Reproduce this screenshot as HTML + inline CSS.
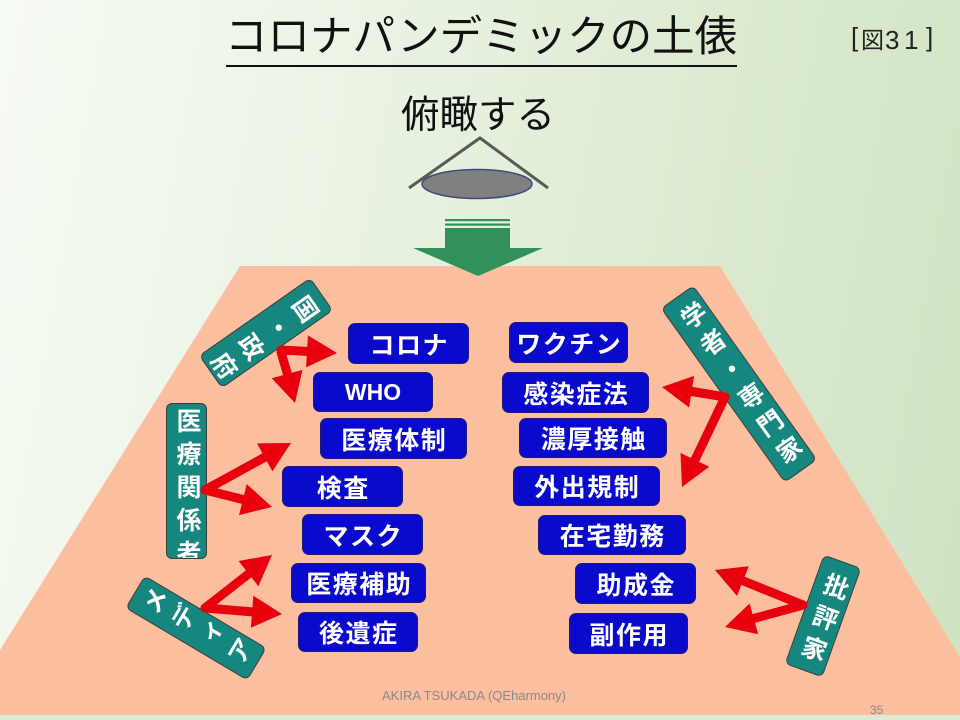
<!DOCTYPE html>
<html>
<head>
<meta charset="utf-8">
<style>
  html,body{margin:0;padding:0;}
  body{width:960px;height:720px;overflow:hidden;position:relative;
    background:linear-gradient(100deg,#f7fbf4 0%,#eaf3e4 35%,#dbeacf 70%,#cfe3c2 100%);
    font-family:"Liberation Sans","Noto Sans CJK JP",sans-serif;}
  .abs{position:absolute;}
  .bx{position:absolute;box-sizing:border-box;background:#0a0acc;border:1.5px solid #1c1c78;border-radius:7px;
    color:#fff;font-weight:bold;font-size:25px;letter-spacing:1.5px;padding-left:1.5px;
    display:flex;align-items:center;justify-content:center;white-space:nowrap;
    font-family:"Liberation Sans","Noto Sans CJK JP",sans-serif;}
  .lb{position:absolute;box-sizing:border-box;background:#16877f;border:1.5px solid #3d3d3d;border-radius:6px;
    color:#fff;font-weight:bold;font-size:25px;writing-mode:vertical-rl;text-orientation:upright;
    letter-spacing:8px;text-align:center;white-space:nowrap;overflow:hidden;
    font-family:"Liberation Sans","Noto Sans CJK JP",sans-serif;}
</style>
</head>
<body>
<svg class="abs" style="left:0;top:0" width="960" height="720" viewBox="0 0 960 720">
  <rect x="0" y="715" width="960" height="5" fill="#dcecd2"/>
  <polygon points="240,266 720,266 960,657 960,715 0,715 0,650" fill="#fbbe9f"/>
  <!-- eye -->
  <polyline points="409,188 480,138 548,188" fill="none" stroke="#575b57" stroke-width="3"/>
  <ellipse cx="477" cy="184" rx="55" ry="14.5" fill="#808080" stroke="#3c4e78" stroke-width="1.5"/>
  <!-- green arrow -->
  <rect x="445" y="219" width="65" height="2.2" fill="#319158"/>
  <rect x="445" y="223.5" width="65" height="2.2" fill="#319158"/>
  <rect x="445" y="228" width="65" height="21" fill="#319158"/>
  <polygon points="413,248 543,248 478,276" fill="#319158"/>
  <!-- title underline -->
  <rect x="226" y="65" width="511" height="2" fill="#111"/>
</svg>

<div class="abs" style="left:225px;top:17px;font-size:42.5px;line-height:1;color:#111;font-family:'Liberation Sans','Noto Sans CJK JP',sans-serif;white-space:nowrap;">コロナパンデミックの土俵</div>

<div class="abs" style="left:851px;top:24px;font-size:26px;line-height:1;color:#222;font-family:'Liberation Sans',sans-serif;">[</div>
<div class="abs" style="left:861px;top:29px;font-size:23px;line-height:1;color:#222;font-family:'Liberation Sans','Noto Sans CJK JP',sans-serif;">図</div>
<div class="abs" style="left:885px;top:27px;font-size:26px;line-height:1;color:#222;font-family:'Liberation Sans',sans-serif;">3</div>
<div class="abs" style="left:904px;top:27px;font-size:26px;line-height:1;color:#222;font-family:'Liberation Sans',sans-serif;">1</div>
<div class="abs" style="left:926px;top:24px;font-size:26px;line-height:1;color:#222;font-family:'Liberation Sans',sans-serif;">]</div>

<div class="abs" style="left:401px;top:97px;font-size:38.5px;line-height:1;color:#111;font-family:'Liberation Sans','Noto Sans CJK JP',sans-serif;white-space:nowrap;">俯瞰する</div>

<!-- blue boxes -->
<div class="bx" style="left:348px;top:323px;width:121px;height:41px;">コロナ</div>
<div class="bx" style="left:313px;top:372px;width:120px;height:40px;font-size:23px;letter-spacing:0;padding-left:0;">WHO</div>
<div class="bx" style="left:320px;top:418px;width:147px;height:41px;">医療体制</div>
<div class="bx" style="left:282px;top:466px;width:121px;height:41px;">検査</div>
<div class="bx" style="left:302px;top:514px;width:121px;height:41px;">マスク</div>
<div class="bx" style="left:291px;top:563px;width:135px;height:40px;">医療補助</div>
<div class="bx" style="left:298px;top:612px;width:120px;height:40px;">後遺症</div>

<div class="bx" style="left:509px;top:322px;width:119px;height:41px;">ワクチン</div>
<div class="bx" style="left:502px;top:372px;width:147px;height:41px;">感染症法</div>
<div class="bx" style="left:519px;top:418px;width:148px;height:40px;">濃厚接触</div>
<div class="bx" style="left:513px;top:466px;width:147px;height:40px;">外出規制</div>
<div class="bx" style="left:538px;top:515px;width:148px;height:40px;">在宅勤務</div>
<div class="bx" style="left:575px;top:563px;width:121px;height:41px;">助成金</div>
<div class="bx" style="left:569px;top:613px;width:119px;height:41px;">副作用</div>

<!-- teal labels -->
<div class="lb" style="left:166px;top:403px;width:41px;height:156px;line-height:38px;text-align:start;padding-top:4px;">医療関係者</div>
<div class="lb" style="left:245.5px;top:265px;width:40px;height:136px;line-height:37px;padding-top:8px;transform:rotate(55deg);">国・政府</div>
<div class="lb" style="left:719px;top:276.5px;width:40px;height:214px;line-height:37px;padding-top:8px;transform:rotate(-35.4deg);">学者・専門家</div>
<div class="lb" style="left:802.5px;top:557.5px;width:40px;height:116px;line-height:37px;padding-top:8px;transform:rotate(19.7deg);">批評家</div>
<div class="lb" style="left:177px;top:557px;width:38px;height:142px;line-height:35px;padding-top:8px;transform:rotate(-59.3deg);">メディア</div>

<!-- red arrows -->
<svg class="abs" style="left:0;top:0" width="960" height="720" viewBox="0 0 960 720">
  <g stroke="#e8000c" stroke-width="9" stroke-linecap="round" fill="none">
    <line x1="281" y1="350" x2="309" y2="351.5"/>
    <line x1="281" y1="352" x2="288" y2="376"/>
    <line x1="205" y1="490" x2="267" y2="456"/>
    <line x1="205" y1="490" x2="245" y2="500"/>
    <line x1="205" y1="608" x2="251" y2="572"/>
    <line x1="205" y1="608" x2="254" y2="612"/>
    <line x1="725" y1="397" x2="689" y2="391"/>
    <line x1="725" y1="397" x2="694" y2="462"/>
    <line x1="803" y1="605" x2="741" y2="580"/>
    <line x1="803" y1="605" x2="752" y2="619"/>
  </g>
  <g fill="#e8000c">
    <polygon points="337,353 306.1,367.4 307.9,335.4"/>
    <polygon points="295,403 271.7,378.3 302.5,369.9"/>
    <polygon points="291,443 272.4,471.4 257.0,443.4"/>
    <polygon points="272,507 239.0,515.1 246.8,484.1"/>
    <polygon points="272,555 258.4,586.2 238.6,561.0"/>
    <polygon points="282,614 250.9,627.7 253.3,595.7"/>
    <polygon points="662,387 694.1,375.9 689.1,407.5"/>
    <polygon points="682,487 680.5,453.0 709.3,466.8"/>
    <polygon points="715,570 748.8,566.2 737.0,596.0"/>
    <polygon points="725,627 749.6,603.5 758.2,634.3"/>
  </g>
</svg>

<div class="abs" style="left:382px;top:689px;font-size:13px;line-height:1;color:#8a8a8a;white-space:nowrap;">AKIRA TSUKADA (QEharmony)</div>
<div class="abs" style="left:870px;top:704px;font-size:12px;line-height:1;color:#8a8a8a;">35</div>
</body>
</html>
